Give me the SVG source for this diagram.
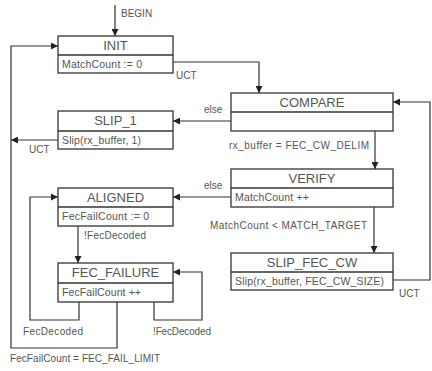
<svg xmlns="http://www.w3.org/2000/svg" width="432" height="371" viewBox="0 0 432 371">
<defs>
<marker id="ah" viewBox="0 0 10 10" refX="10" refY="5" markerWidth="7" markerHeight="7" orient="auto" markerUnits="userSpaceOnUse">
<path d="M0,0 L10,5 L0,10 z" fill="#222"/>
</marker>
</defs>
<style>
.box{fill:#fff;stroke:#333;stroke-width:1.3}
.div{stroke:#333;stroke-width:1.3}
.title{font-family:"Liberation Sans",Arial,sans-serif;font-size:13px;fill:#555;text-anchor:middle}
.act{font-family:"Liberation Sans",Arial,sans-serif;font-size:10.5px;fill:#555}
.lbl{font-family:"Liberation Sans",Arial,sans-serif;font-size:10px;fill:#555}
.edge{fill:none;stroke:#333;stroke-width:1.2}
</style>
<rect width="432" height="371" fill="#fff"/>
<g id="connectors">
<path class="edge" d="M115,5 V36" marker-end="url(#ah)"/>
<path class="edge" d="M173,62 H259 V93" marker-end="url(#ah)"/>
<path class="edge" d="M231,121 H173" marker-end="url(#ah)"/>
<path class="edge" d="M58,140 H11" marker-end="url(#ah)"/>
<path class="edge" d="M117,302 V348 H11 V46 H58" marker-end="url(#ah)"/>
<path class="edge" d="M375,131 V169" marker-end="url(#ah)"/>
<path class="edge" d="M231,197 H173" marker-end="url(#ah)"/>
<path class="edge" d="M374,207 V253" marker-end="url(#ah)"/>
<path class="edge" d="M393,280 H430 V102 H393" marker-end="url(#ah)"/>
<path class="edge" d="M78,226 V263" marker-end="url(#ah)"/>
<path class="edge" d="M79,302 V320 H30 V197 H58" marker-end="url(#ah)"/>
<path class="edge" d="M154,302 V320 H202 V272 H173" marker-end="url(#ah)"/>
<text class="lbl" x="121" y="17">BEGIN</text>
<text class="lbl" x="176" y="79">UCT</text>
<text class="lbl" x="204" y="113">else</text>
<text class="lbl" x="29" y="153">UCT</text>
<text class="lbl" x="10" y="362" textLength="150">FecFailCount = FEC_FAIL_LIMIT</text>
<text class="lbl" x="229" y="149" textLength="140">rx_buffer = FEC_CW_DELIM</text>
<text class="lbl" x="204" y="189">else</text>
<text class="lbl" x="210" y="229" textLength="157">MatchCount &lt; MATCH_TARGET</text>
<text class="lbl" x="399" y="297">UCT</text>
<text class="lbl" x="84" y="239" textLength="62">!FecDecoded</text>
<text class="lbl" x="23" y="335" textLength="60">FecDecoded</text>
<text class="lbl" x="153" y="335" textLength="58">!FecDecoded</text>
</g>
<g id="INIT">
<rect class="box" x="58" y="36" width="115" height="37"/>
<line class="div" x1="58" y1="55" x2="173" y2="55"/>
<text class="title" x="115.5" y="50">INIT</text>
<text class="act" x="62" y="68" textLength="80">MatchCount := 0</text>
</g>
<g id="SLIP_1">
<rect class="box" x="58" y="111" width="115" height="38"/>
<line class="div" x1="58" y1="131" x2="173" y2="131"/>
<text class="title" x="115.5" y="125">SLIP_1</text>
<text class="act" x="62" y="144" textLength="79">Slip(rx_buffer, 1)</text>
</g>
<g id="ALIGNED">
<rect class="box" x="58" y="188" width="115" height="38"/>
<line class="div" x1="58" y1="207" x2="173" y2="207"/>
<text class="title" x="115.5" y="202">ALIGNED</text>
<text class="act" x="62" y="220" textLength="87">FecFailCount := 0</text>
</g>
<g id="FEC_FAILURE">
<rect class="box" x="58" y="263" width="115" height="39"/>
<line class="div" x1="58" y1="283" x2="173" y2="283"/>
<text class="title" x="115.5" y="277">FEC_FAILURE</text>
<text class="act" x="62" y="296" textLength="79">FecFailCount ++</text>
</g>
<g id="COMPARE">
<rect class="box" x="231" y="93" width="162" height="38"/>
<line class="div" x1="231" y1="112" x2="393" y2="112"/>
<text class="title" x="312" y="107">COMPARE</text>
</g>
<g id="VERIFY">
<rect class="box" x="231" y="169" width="162" height="38"/>
<line class="div" x1="231" y1="188" x2="393" y2="188"/>
<text class="title" x="312" y="183">VERIFY</text>
<text class="act" x="235" y="201" textLength="74">MatchCount ++</text>
</g>
<g id="SLIP_FEC_CW">
<rect class="box" x="231" y="253" width="162" height="37"/>
<line class="div" x1="231" y1="272" x2="393" y2="272"/>
<text class="title" x="312" y="267">SLIP_FEC_CW</text>
<text class="act" x="235" y="285" textLength="149">Slip(rx_buffer, FEC_CW_SIZE)</text>
</g>
</svg>
